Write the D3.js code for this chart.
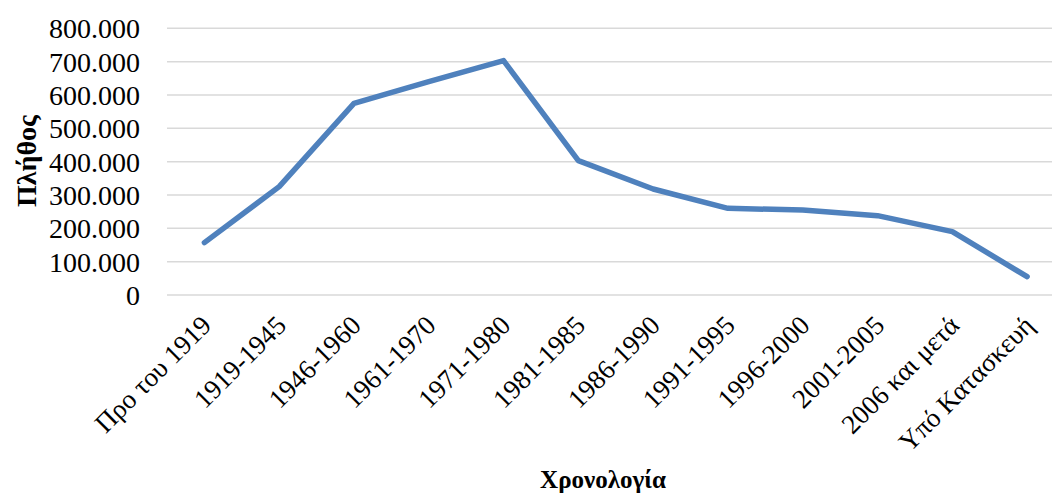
<!DOCTYPE html>
<html>
<head>
<meta charset="utf-8">
<script src="https://cdn.jsdelivr.net/npm/d3@7"></script>
<style>
  html, body { margin: 0; padding: 0; background: #fff; }
  svg { display: block; font-family: "Liberation Serif", "Times New Roman", serif; }
</style>
</head>
<body>
<svg id="chart" width="1052" height="495"></svg>
<script>
// Building counts by construction period
const periods = ["Προ του 1919", "1919-1945", "1946-1960", "1961-1970", "1971-1980", "1981-1985",
                 "1986-1990", "1991-1995", "1996-2000", "2001-2005", "2006 και μετά", "Υπό Κατασκευή"];
const counts = [157000, 325000, 575000, 640000, 703000, 403000, 318000, 260000, 255000, 238000, 190000, 55000];
const yTicks = [0, 100000, 200000, 300000, 400000, 500000, 600000, 700000, 800000];
const yTitle = "Πλήθος";
const xTitle = "Χρονολογία";

const svg = d3.select("#chart");
const W = 1052, H = 495;
const plot = { left: 167, right: 1064.5, top: 28.3, bottom: 295 };

const x = d3.scalePoint().domain(periods).range([plot.left, plot.right]).padding(0.5);
const y = d3.scaleLinear().domain([0, 800000]).range([plot.bottom, plot.top]);

const locale = d3.formatLocale({ decimal: ",", thousands: ".", grouping: [3], currency: ["", "€"] });
const fmt = locale.format(",");

// horizontal gridlines
svg.append("g")
  .selectAll("line")
  .data(yTicks)
  .join("line")
  .attr("x1", plot.left).attr("x2", W)
  .attr("y1", d => y(d)).attr("y2", d => y(d))
  .attr("stroke", "#d9d9d9").attr("stroke-width", 1.5);

// y axis labels
const yAxis = d3.axisLeft(y).tickValues(yTicks).tickFormat(fmt).tickSize(0).tickPadding(0);
const gy = svg.append("g").attr("transform", "translate(140,0)").call(yAxis);
gy.select(".domain").remove();
gy.selectAll("text")
  .attr("font-family", "Liberation Serif, serif")
  .attr("font-size", 28).attr("fill", "#000").attr("dy", "0.34em");

// x axis labels, rotated
const xAxis = d3.axisBottom(x).tickSize(0).tickPadding(0);
const gx = svg.append("g").attr("transform", `translate(0,${plot.bottom})`).call(xAxis);
gx.select(".domain").remove();
gx.selectAll("text")
  .attr("font-family", "Liberation Serif, serif")
  .attr("font-size", 27).attr("fill", "#000")
  .attr("text-anchor", "end")
  .attr("dy", 0).attr("y", 0)
  .attr("transform", "translate(8,32) rotate(-45)");

// series line
const line = d3.line().x((d, i) => x(periods[i])).y(d => y(d));
svg.append("path")
  .datum(counts)
  .attr("d", line)
  .attr("fill", "none")
  .attr("stroke", "#4f81bd")
  .attr("stroke-width", 5.5)
  .attr("stroke-linejoin", "round")
  .attr("stroke-linecap", "round");

// axis titles
svg.append("text")
  .attr("transform", "translate(36,161) rotate(-90)")
  .attr("text-anchor", "middle")
  .attr("font-weight", "bold").attr("font-size", 28)
  .text(yTitle);

svg.append("text")
  .attr("x", 603).attr("y", 488)
  .attr("text-anchor", "middle")
  .attr("font-weight", "bold").attr("font-size", 25)
  .text(xTitle);
</script>
</body>
</html>
